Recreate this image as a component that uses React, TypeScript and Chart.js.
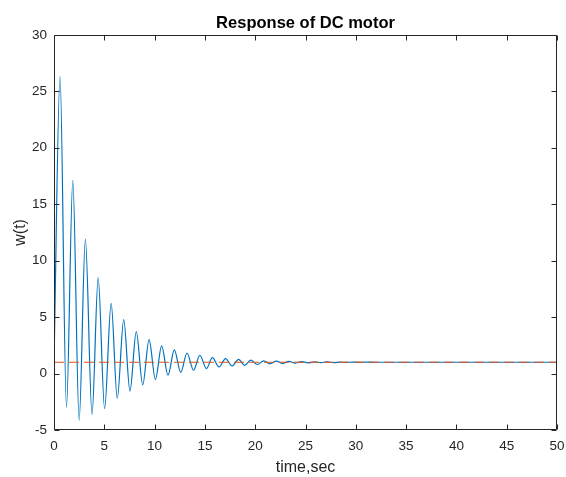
import React, { useEffect, useRef } from "react";
import { Chart, registerables } from "chart.js";

Chart.register(...registerables);

const chartTitle = "Response of DC motor";
const xLabel = "time,sec";
const yLabel = "w(t)";

const xTicks = [0, 5, 10, 15, 20, 25, 30, 35, 40, 45, 50];
const yTicks = [-5, 0, 5, 10, 15, 20, 25, 30];

// Response: start, then alternating peaks and troughs
const timeSec = [
  0, 0.6, 1.24, 1.87, 2.5, 3.12, 3.78, 4.39, 5.03, 5.68, 6.29, 6.93, 7.55, 8.18,
  8.82, 9.45, 10.08, 10.7, 11.33, 11.96, 12.6, 13.22, 13.87, 14.5, 15.15, 15.74,
  16.4, 17.05, 17.7, 18.35, 18.95, 19.55, 20.22, 20.85, 21.46, 22.09, 22.73,
  23.36, 23.99, 24.62, 25.26, 25.89, 26.52, 27.15, 27.79, 28.42, 29.05, 29.68,
  30.32, 30.95, 32, 50,
];
const wt = [
  1, 26.3, -3.0, 17.1, -4.13, 11.9, -3.62, 8.47, -3.1, 6.22, -2.21, 4.77, -1.55,
  3.71, -1.0, 3.0, -0.52, 2.45, -0.15, 2.1, 0.1, 1.82, 0.29, 1.62, 0.44, 1.41,
  0.58, 1.33, 0.67, 1.26, 0.73, 1.18, 0.8, 1.13, 0.86, 1.1, 0.9, 1.08, 0.93,
  1.06, 0.95, 1.04, 0.965, 1.03, 0.975, 1.02, 0.985, 1.015, 0.99, 1.01, 1, 1,
];

const refTime = [0, 50];
const refValue = [1, 1];

const AXIS_COLOR = "#262626";
const FONT = "'Liberation Sans', Arial, Helvetica, sans-serif";

const boxPlugin = {
  id: "matlabBox",
  afterDatasetsDraw(chart: any) {
    const { ctx, chartArea, scales } = chart;
    const { left, right, top, bottom } = chartArea;
    const x = scales.x;
    const y = scales.y;
    const L = Math.round(left) + 0.5;
    const R = Math.round(right) - 0.5;
    const T = Math.round(top) + 0.5;
    const B = Math.round(bottom) - 0.5;
    const len = 5;
    ctx.save();
    ctx.strokeStyle = AXIS_COLOR;
    ctx.lineWidth = 1;
    ctx.beginPath();
    ctx.rect(L, T, R - L, B - T);
    xTicks.forEach((v) => {
      const px = Math.round(x.getPixelForValue(v)) + 0.5;
      ctx.moveTo(px, B);
      ctx.lineTo(px, B - len);
      ctx.moveTo(px, T);
      ctx.lineTo(px, T + len);
    });
    yTicks.forEach((v) => {
      const py = Math.round(y.getPixelForValue(v)) + 0.5;
      ctx.moveTo(L, py);
      ctx.lineTo(L + len, py);
      ctx.moveTo(R, py);
      ctx.lineTo(R - len, py);
    });
    ctx.stroke();
    ctx.restore();
  },
};

export default function App() {
  const ref = useRef<HTMLCanvasElement | null>(null);

  useEffect(() => {
    document.body.style.margin = "0";
    const canvas = ref.current;
    if (!canvas) return;
    const chart = new Chart(canvas, {
      type: "line",
      data: {
        datasets: [
          {
            label: "reference",
            data: refTime.map((t, i) => ({ x: t, y: refValue[i] })),
            borderColor: "#D95319",
            borderWidth: 1,
            borderDash: [10, 5],
            pointRadius: 0,
            order: 0,
          },
          {
            label: "w(t)",
            data: timeSec.map((t, i) => ({ x: t, y: wt[i] })),
            borderColor: "#0072BD",
            borderWidth: 1.2,
            pointRadius: 0,
            cubicInterpolationMode: "monotone",
            order: 1,
          },
        ],
      },
      options: {
        responsive: false,
        animation: false,
        layout: { padding: { left: 0, right: 0, top: 0, bottom: 0 } },
        plugins: {
          legend: { display: false },
          tooltip: { enabled: false },
          title: {
            display: true,
            text: chartTitle,
            fullSize: false,
            color: "#000000",
            font: { family: FONT, size: 16.5, weight: "bold" },
            padding: { top: 14, bottom: 1 },
          },
        },
        scales: {
          x: {
            type: "linear",
            min: 0,
            max: 50,
            afterFit: (s: any) => {
              s.height = 47;
              s.paddingLeft = 0;
              s.paddingRight = 9;
            },
            afterBuildTicks: (s: any) => {
              s.ticks = xTicks.map((v) => ({ value: v }));
            },
            grid: { display: false, drawTicks: false },
            border: { display: false },
            ticks: {
              color: AXIS_COLOR,
              font: { family: FONT, size: 13.5 },
              padding: 8,
              maxRotation: 0,
            },
            title: {
              display: true,
              text: xLabel,
              color: AXIS_COLOR,
              font: { family: FONT, size: 16 },
              padding: { top: 0, bottom: 0 },
            },
          },
          y: {
            type: "linear",
            min: -5,
            max: 30,
            afterFit: (s: any) => {
              s.width = 54;
            },
            afterBuildTicks: (s: any) => {
              s.ticks = yTicks.map((v) => ({ value: v }));
            },
            grid: { display: false, drawTicks: false },
            border: { display: false },
            ticks: {
              color: AXIS_COLOR,
              font: { family: FONT, size: 13.5 },
              padding: 7,
            },
            title: {
              display: true,
              text: yLabel,
              color: AXIS_COLOR,
              font: { family: FONT, size: 16 },
              padding: { top: 11, bottom: 0 },
            },
          },
        },
      },
      plugins: [boxPlugin],
    });
    return () => chart.destroy();
  }, []);

  return (
    <div style={{ position: "absolute", left: 0, top: 0, width: 566, height: 477, background: "#ffffff" }}>
      <canvas ref={ref} width={566} height={477} style={{ width: 566, height: 477 }} />
    </div>
  );
}
